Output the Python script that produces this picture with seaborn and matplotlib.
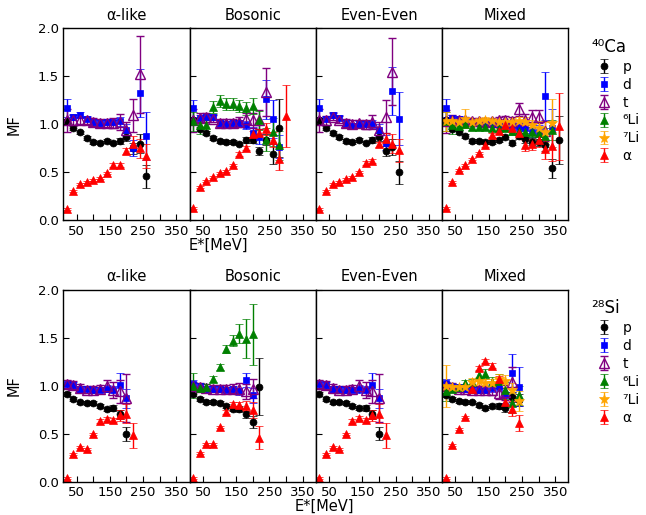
import numpy as np
import matplotlib
matplotlib.use('Agg')
import matplotlib.pyplot as plt
import seaborn as sns

# excitation energy bins (MeV)
energy = [20, 40, 60, 80, 100, 120, 140, 160, 180, 200, 220, 240, 260, 280, 300, 320, 340, 360]

panel_titles = ['α-like', 'Bosonic', 'Even-Even', 'Mixed']
species = ['p', 'd', 't', 'li6', 'li7', 'a']
species_labels = ['p', 'd', 't', '⁶Li', '⁷Li', 'α']

# ---- 40Ca ----
ca_alike_p = [1.03, 0.96, 0.915, 0.86, 0.82, 0.81, 0.83, 0.81, 0.83, 0.87, 0.75, 0.80, 0.46]
ca_alike_p_err = [0.03, 0.02, 0.02, 0.02, 0.02, 0.02, 0.02, 0.02, 0.03, 0.04, 0.06, 0.1, 0.12]
ca_alike_d = [1.17, 1.08, 1.095, 1.06, 1.025, 1.015, 1.02, 1.02, 1.03, 0.94, 0.755, 1.33, 0.875]
ca_alike_d_err = [0.09, 0.03, 0.03, 0.03, 0.03, 0.03, 0.03, 0.03, 0.05, 0.06, 0.08, 0.25, 0.25]
ca_alike_t = [1.04, 1.045, 1.04, 1.04, 1.025, 1.015, 1.015, 1.015, 1.025, 0.94, 1.095, 1.52]
ca_alike_t_err = [0.12, 0.05, 0.04, 0.04, 0.04, 0.04, 0.04, 0.05, 0.08, 0.08, 0.17, 0.4]
ca_alike_a = [0.12, 0.31, 0.375, 0.40, 0.42, 0.44, 0.49, 0.58, 0.58, 0.72, 0.80, 0.75, 0.67]
ca_alike_a_err = [0.01, 0.01, 0.01, 0.01, 0.01, 0.01, 0.01, 0.02, 0.02, 0.03, 0.08, 0.1, 0.12]

ca_bos_p = [1.04, 0.95, 0.91, 0.86, 0.83, 0.82, 0.82, 0.80, 0.835, 0.84, 0.72, 0.84, 0.69, 0.96]
ca_bos_p_err = [0.03, 0.02, 0.02, 0.02, 0.02, 0.02, 0.02, 0.02, 0.03, 0.03, 0.04, 0.06, 0.1, 0.3]
ca_bos_d = [1.165, 1.07, 1.08, 1.08, 1.015, 1.00, 1.01, 1.01, 0.99, 0.91, 0.87, 1.26, 1.055, 0.765]
ca_bos_d_err = [0.09, 0.03, 0.03, 0.03, 0.03, 0.03, 0.03, 0.03, 0.04, 0.06, 0.08, 0.2, 0.2, 0.12]
ca_bos_t = [1.04, 1.07, 1.08, 1.06, 1.015, 1.015, 1.015, 1.025, 1.06, 1.04, 1.05, 1.34]
ca_bos_t_err = [0.12, 0.05, 0.04, 0.04, 0.04, 0.04, 0.04, 0.05, 0.06, 0.08, 0.1, 0.25]
ca_bos_li6 = [1.03, 0.99, 0.99, 1.18, 1.245, 1.21, 1.21, 1.19, 1.165, 1.19, 1.04, 0.84, 0.92, 0.78]
ca_bos_li6_err = [0.1, 0.09, 0.06, 0.06, 0.06, 0.06, 0.06, 0.06, 0.07, 0.08, 0.1, 0.12, 0.15, 0.15]
ca_bos_a = [0.13, 0.35, 0.41, 0.45, 0.49, 0.51, 0.58, 0.69, 0.75, 0.90, 0.91, 0.95, 0.84, 0.64, 1.085]
ca_bos_a_err = [0.01, 0.01, 0.01, 0.01, 0.01, 0.01, 0.01, 0.02, 0.02, 0.03, 0.04, 0.06, 0.08, 0.12, 0.32]

ca_ee_p = [1.04, 0.96, 0.91, 0.87, 0.83, 0.82, 0.84, 0.81, 0.835, 0.87, 0.72, 0.765, 0.50]
ca_ee_p_err = [0.03, 0.02, 0.02, 0.02, 0.02, 0.02, 0.02, 0.02, 0.03, 0.04, 0.05, 0.08, 0.12]
ca_ee_d = [1.17, 1.06, 1.095, 1.07, 1.01, 0.98, 1.00, 1.00, 1.00, 0.94, 0.81, 1.35, 1.06]
ca_ee_d_err = [0.09, 0.03, 0.03, 0.03, 0.03, 0.03, 0.03, 0.03, 0.04, 0.06, 0.08, 0.25, 0.28]
ca_ee_t = [1.04, 1.04, 1.08, 1.05, 1.015, 1.00, 1.01, 1.00, 1.025, 0.94, 1.08, 1.55]
ca_ee_t_err = [0.12, 0.05, 0.04, 0.04, 0.04, 0.04, 0.04, 0.05, 0.07, 0.08, 0.17, 0.35]
ca_ee_a = [0.12, 0.31, 0.38, 0.40, 0.43, 0.45, 0.50, 0.60, 0.62, 0.79, 0.85, 0.80, 0.73]
ca_ee_a_err = [0.01, 0.01, 0.01, 0.01, 0.01, 0.01, 0.01, 0.02, 0.02, 0.03, 0.06, 0.1, 0.12]

ca_mix_p = [1.04, 0.95, 0.92, 0.88, 0.83, 0.83, 0.82, 0.82, 0.835, 0.87, 0.81, 0.88, 0.85, 0.82, 0.82, 0.78, 0.54, 0.835]
ca_mix_p_err = [0.03, 0.02, 0.02, 0.02, 0.02, 0.02, 0.02, 0.02, 0.02, 0.02, 0.03, 0.03, 0.04, 0.04, 0.05, 0.06, 0.1, 0.25]
ca_mix_d = [1.17, 1.07, 1.06, 1.04, 1.02, 1.01, 1.01, 1.00, 1.00, 0.99, 0.98, 0.97, 0.96, 0.93, 0.92, 1.30, 0.96]
ca_mix_d_err = [0.09, 0.03, 0.03, 0.03, 0.03, 0.03, 0.03, 0.03, 0.03, 0.03, 0.04, 0.04, 0.05, 0.06, 0.07, 0.25, 0.2]
ca_mix_t = [1.03, 1.05, 1.04, 1.04, 1.03, 1.03, 1.02, 1.03, 1.04, 1.04, 1.03, 1.155, 1.05, 1.08, 1.08, 0.93]
ca_mix_t_err = [0.12, 0.05, 0.04, 0.04, 0.04, 0.04, 0.04, 0.04, 0.04, 0.05, 0.05, 0.07, 0.06, 0.07, 0.07, 0.1]
ca_mix_li6 = [1.03, 0.99, 0.98, 1.00, 0.97, 0.97, 0.97, 0.96, 0.96, 0.96, 0.93, 0.93, 0.92, 0.92, 0.91, 0.88, 0.94]
ca_mix_li6_err = [0.1, 0.09, 0.05, 0.04, 0.03, 0.03, 0.03, 0.03, 0.03, 0.03, 0.04, 0.04, 0.05, 0.05, 0.06, 0.08, 0.1]
ca_mix_li7 = [1.03, 1.03, 1.02, 1.06, 1.02, 1.03, 1.04, 1.03, 1.02, 1.02, 1.02, 1.03, 1.02, 0.99, 0.96, 0.92, 1.01]
ca_mix_li7_err = [0.1, 0.05, 0.04, 0.1, 0.04, 0.04, 0.04, 0.04, 0.04, 0.04, 0.05, 0.05, 0.06, 0.06, 0.07, 0.1, 0.25]
ca_mix_a = [0.13, 0.40, 0.52, 0.58, 0.64, 0.70, 0.78, 0.89, 0.93, 0.99, 0.96, 0.91, 0.78, 0.79, 0.84, 0.74, 0.77, 0.98]
ca_mix_a_err = [0.01, 0.01, 0.01, 0.01, 0.01, 0.01, 0.02, 0.02, 0.03, 0.03, 0.04, 0.05, 0.06, 0.06, 0.08, 0.1, 0.15, 0.35]

# ---- 28Si ----
si_alike_p = [0.91, 0.86, 0.825, 0.82, 0.82, 0.79, 0.76, 0.77, 0.70, 0.495]
si_alike_p_err = [0.02, 0.02, 0.02, 0.02, 0.02, 0.02, 0.02, 0.03, 0.05, 0.07]
si_alike_d = [1.02, 1.005, 0.97, 0.97, 0.96, 0.96, 0.97, 0.95, 1.01, 0.87]
si_alike_d_err = [0.04, 0.03, 0.03, 0.03, 0.03, 0.03, 0.04, 0.05, 0.12, 0.1]
si_alike_t = [1.02, 1.005, 0.975, 0.96, 0.96, 0.97, 1.0, 0.955, 0.94, 0.87]
si_alike_t_err = [0.04, 0.04, 0.04, 0.04, 0.04, 0.04, 0.06, 0.08, 0.12, 0.25]
si_alike_a = [0.035, 0.29, 0.36, 0.34, 0.50, 0.63, 0.65, 0.64, 0.69, 0.71, 0.485]
si_alike_a_err = [0.01, 0.01, 0.01, 0.01, 0.01, 0.02, 0.02, 0.02, 0.06, 0.1, 0.13]

si_bos_p = [0.91, 0.86, 0.83, 0.83, 0.82, 0.79, 0.755, 0.755, 0.70, 0.62, 0.99]
si_bos_p_err = [0.02, 0.02, 0.02, 0.02, 0.02, 0.02, 0.02, 0.03, 0.04, 0.06, 0.3]
si_bos_d = [1.02, 1.00, 0.97, 0.965, 0.965, 0.96, 0.965, 0.94, 1.06, 0.90]
si_bos_d_err = [0.04, 0.03, 0.03, 0.03, 0.03, 0.03, 0.03, 0.04, 0.07, 0.08]
si_bos_t = [1.0, 0.99, 0.975, 0.97, 0.97, 0.97, 0.97, 0.97, 0.94, 0.97]
si_bos_t_err = [0.04, 0.04, 0.04, 0.04, 0.04, 0.04, 0.05, 0.06, 0.08, 0.1]
si_bos_li6 = [1.0, 0.98, 0.99, 1.07, 1.195, 1.385, 1.47, 1.54, 1.49, 1.535]
si_bos_li6_err = [0.13, 0.05, 0.03, 0.03, 0.03, 0.04, 0.06, 0.1, 0.2, 0.32]
si_bos_a = [0.035, 0.30, 0.39, 0.39, 0.57, 0.73, 0.81, 0.80, 0.79, 0.745, 0.46]
si_bos_a_err = [0.01, 0.01, 0.01, 0.01, 0.01, 0.02, 0.02, 0.03, 0.05, 0.08, 0.12]

si_ee_p = [0.91, 0.86, 0.825, 0.825, 0.82, 0.79, 0.765, 0.77, 0.70, 0.50]
si_ee_p_err = [0.02, 0.02, 0.02, 0.02, 0.02, 0.02, 0.02, 0.03, 0.05, 0.07]
si_ee_d = [1.02, 1.005, 0.97, 0.965, 0.96, 0.96, 0.965, 0.95, 1.01, 0.87]
si_ee_d_err = [0.04, 0.03, 0.03, 0.03, 0.03, 0.03, 0.04, 0.05, 0.12, 0.1]
si_ee_t = [1.02, 1.005, 0.975, 0.96, 0.96, 0.97, 1.0, 0.955, 0.94, 0.87]
si_ee_t_err = [0.04, 0.04, 0.04, 0.04, 0.04, 0.04, 0.06, 0.08, 0.12, 0.25]
si_ee_a = [0.035, 0.29, 0.36, 0.34, 0.50, 0.63, 0.66, 0.64, 0.69, 0.71, 0.485]
si_ee_a_err = [0.01, 0.01, 0.01, 0.01, 0.01, 0.02, 0.02, 0.02, 0.06, 0.1, 0.13]

si_mix_p = [0.90, 0.86, 0.84, 0.83, 0.825, 0.80, 0.77, 0.79, 0.79, 0.77, 0.88, 0.85]
si_mix_p_err = [0.02, 0.02, 0.02, 0.02, 0.02, 0.02, 0.02, 0.02, 0.03, 0.04, 0.05, 0.06]
si_mix_d = [1.03, 1.00, 0.985, 0.97, 0.965, 0.96, 0.96, 0.975, 0.99, 0.90, 1.13, 0.99]
si_mix_d_err = [0.04, 0.03, 0.03, 0.03, 0.03, 0.03, 0.03, 0.04, 0.05, 0.08, 0.2, 0.2]
si_mix_t = [1.0, 0.99, 0.97, 0.97, 0.96, 0.96, 0.96, 0.95, 0.92, 0.93, 1.04]
si_mix_t_err = [0.04, 0.04, 0.04, 0.04, 0.04, 0.04, 0.04, 0.05, 0.06, 0.08, 0.15]
si_mix_li6 = [0.94, 0.97, 0.99, 1.03, 1.04, 1.11, 1.12, 1.04, 1.05, 0.95, 0.82, 0.90]
si_mix_li6_err = [0.1, 0.04, 0.03, 0.03, 0.03, 0.04, 0.05, 0.05, 0.07, 0.09, 0.1, 0.1]
si_mix_li7 = [1.0, 0.99, 0.985, 0.99, 1.04, 1.05, 1.03, 1.03, 1.07, 1.05, 0.95, 0.84]
si_mix_li7_err = [0.22, 0.04, 0.03, 0.03, 0.04, 0.04, 0.04, 0.04, 0.05, 0.06, 0.08, 0.1]
si_mix_a = [0.035, 0.38, 0.55, 0.675, 0.97, 1.18, 1.26, 1.21, 1.065, 0.83, 0.76, 0.61]
si_mix_a_err = [0.01, 0.01, 0.01, 0.01, 0.02, 0.02, 0.02, 0.03, 0.04, 0.06, 0.08, 0.08]

g = globals()
styles = {
    'p':   dict(fmt='o', color='black', ms=5),
    'd':   dict(fmt='s', color='blue', ms=5),
    't':   dict(fmt='^', color='purple', ms=7, mfc='none', mew=1),
    'li6': dict(fmt='^', color='green', ms=6),
    'li7': dict(fmt='*', color='orange', ms=7),
    'a':   dict(fmt='^', color='red', ms=6),
}

sns.set_style('ticks')
plt.rcParams['font.family'] = ['DejaVu Sans']
plt.rcParams['xtick.direction'] = 'in'
plt.rcParams['ytick.direction'] = 'in'
for k in ['text.color', 'axes.labelcolor', 'xtick.color', 'ytick.color']:
    plt.rcParams[k] = 'black'

fig, axes = plt.subplots(2, 4, figsize=(6.46, 5.15), dpi=100, sharex=True, sharey=True)
fig.subplots_adjust(left=0.098, right=0.88, top=0.945, bottom=0.0647, wspace=0, hspace=0.361)

rows = [('ca', '⁴⁰Ca'), ('si', '²⁸Si')]
groups = ['alike', 'bos', 'ee', 'mix']

for r, (nuc, nuc_label) in enumerate(rows):
    for c, grp in enumerate(groups):
        ax = axes[r, c]
        for sp, lab in zip(species, species_labels):
            key = '{}_{}_{}'.format(nuc, grp, sp)
            if key not in g:
                continue
            vals = g[key]
            errs = g[key + '_err']
            st = styles[sp]
            ax.errorbar(energy[:len(vals)], vals, yerr=errs, fmt=st['fmt'], color=st['color'],
                        ms=st['ms'], mfc=st.get('mfc', st['color']), mec=st['color'],
                        mew=st.get('mew', 0.5), capsize=3, elinewidth=1, capthick=1, label=lab)
        ax.set_title(panel_titles[c], fontsize=10.5, pad=6)
        ax.set_xlim(10, 390)
        ax.set_ylim(0, 2.0)
        ax.set_xticks([50, 100, 150, 200, 250, 300, 350])
        ax.set_xticklabels(['50', '', '150', '', '250', '', '350'])
        ax.set_yticks([0.0, 0.5, 1.0, 1.5, 2.0])
        ax.tick_params(labelsize=9.5, length=4, width=0.8, top=False, right=False, pad=3)
        for s in ax.spines.values():
            s.set_visible(True)
            s.set_linewidth(1)
            s.set_color('black')
        if c == 0:
            ax.set_ylabel('MF', fontsize=10.5, labelpad=12)
            ax.tick_params(labelleft=True)
        if c == 3:
            leg = ax.legend(loc='upper left', bbox_to_anchor=(1.18, 0.95), frameon=False,
                            title=nuc_label, fontsize=10, title_fontsize=12, alignment='left',
                            handletextpad=0.45, handlelength=1.8, labelspacing=0.28,
                            borderaxespad=0, borderpad=0)
        ax.xaxis.set_tick_params(labelbottom=True)

fig.text(0.338, 0.523, 'E*[MeV]', ha='center', va='center', fontsize=10.5)
fig.text(0.502, 0.0175, 'E*[MeV]', ha='center', va='center', fontsize=10.5)

fig.savefig('out.png', dpi=100)
